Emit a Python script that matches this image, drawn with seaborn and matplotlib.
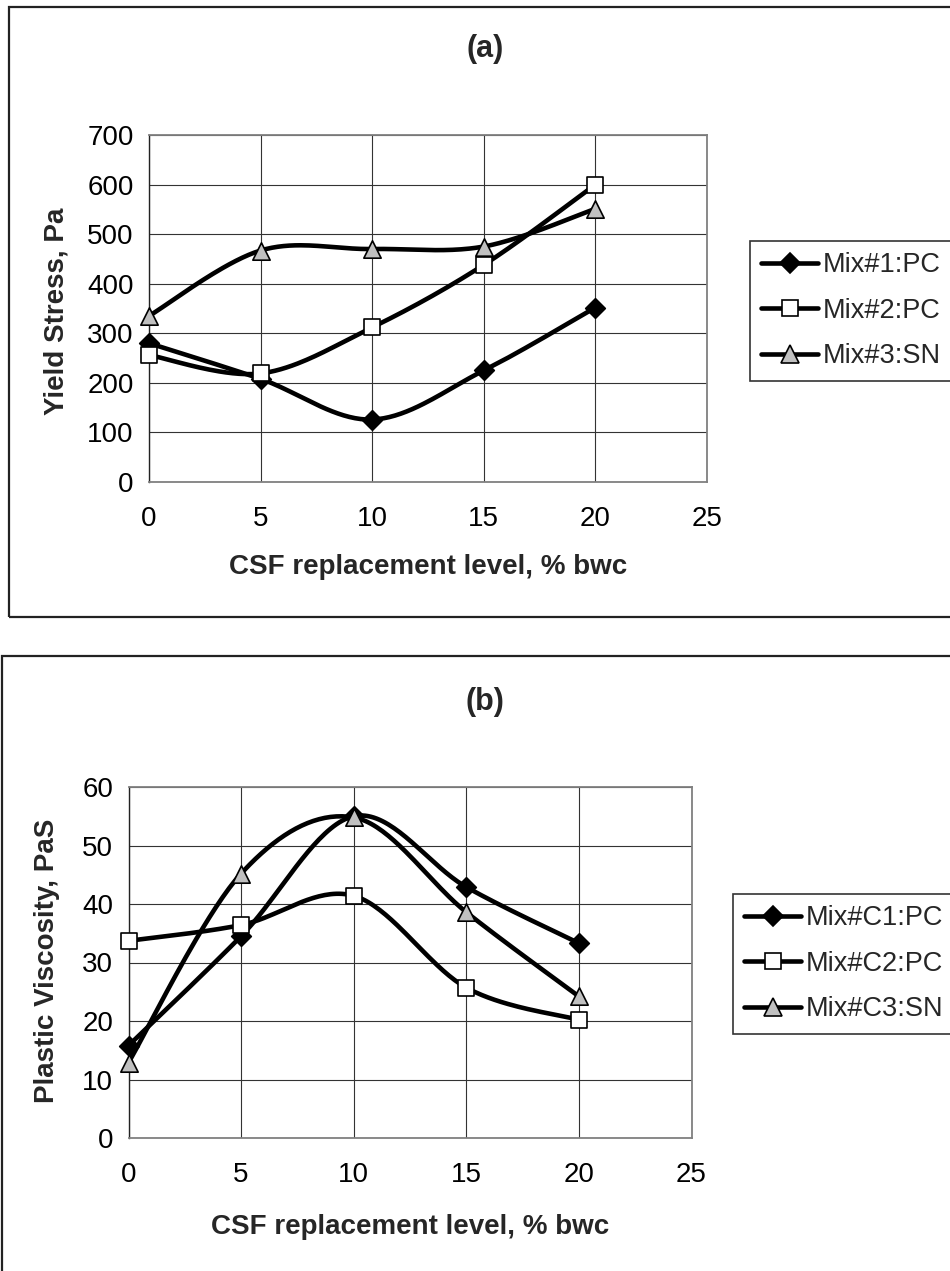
import numpy as np
import pandas as pd
import matplotlib
matplotlib.use("Agg")
import matplotlib.pyplot as plt
from matplotlib.lines import Line2D
from matplotlib.patches import Rectangle
import seaborn as sns

# ---- data -------------------------------------------------------------
csf_levels = [0, 5, 10, 15, 20]

yield_labels = ["Mix#1:PC", "Mix#2:PC", "Mix#3:SN"]
yield_mix1 = [280, 208, 126, 225, 352]
yield_mix2 = [256, 219, 312, 438, 600]
yield_mix3 = [335, 467, 470, 475, 551]

visc_labels = ["Mix#C1:PC", "Mix#C2:PC", "Mix#C3:SN"]
visc_c1 = [15.8, 34.5, 55.0, 42.9, 33.3]
visc_c2 = [33.7, 36.4, 41.4, 25.7, 20.2]
visc_c3 = [12.9, 45.2, 54.8, 38.6, 24.2]

x_ticks = [0, 5, 10, 15, 20, 25]
yield_ticks = [0, 100, 200, 300, 400, 500, 600, 700]
visc_ticks = [0, 10, 20, 30, 40, 50, 60]

# ---- style ------------------------------------------------------------
sns.set_style("white")
plt.rcParams["font.family"] = ["Liberation Sans", "DejaVu Sans"]

W, H = 950, 1271
fig = plt.figure(figsize=(W / 100, H / 100), dpi=100)

MARKERS = [
    dict(marker="D", s=10.0 ** 2, color="black"),
    dict(marker="s", s=11.5 ** 2, color="white"),
    dict(marker="^", s=12.5 ** 2, color="#c0c0c0"),
]
GRID = "#333333"


def smooth(xs, ys, n=40):
    """Bezier smoothing through every point (control points from neighbours)."""
    p = np.column_stack([xs, ys]).astype(float)
    ext = np.vstack([p[0], p, p[-1]])
    out = []
    t = np.linspace(0, 1, n)[:, None]
    for i in range(len(p) - 1):
        p0, p1 = p[i], p[i + 1]
        c1 = p0 + (ext[i + 2] - ext[i]) / 6.0
        c2 = p1 - (ext[i + 3] - ext[i + 1]) / 6.0
        seg = ((1 - t) ** 3) * p0 + 3 * ((1 - t) ** 2) * t * c1 \
            + 3 * (1 - t) * t ** 2 * c2 + t ** 3 * p1
        out.append(seg if i == 0 else seg[1:])
    seg = np.vstack(out)
    return seg[:, 0], seg[:, 1]


def px_rect(l, r, t, b):
    return [l / W, 1 - b / H, (r - l) / W, (b - t) / H]


def panel(rect, series, labels, yticks, ylabel, label_pos, legend_xy, title, title_y):
    ax = fig.add_axes(rect)
    # smoothed lines
    for ys in series:
        sx, sy = smooth(csf_levels, ys)
        sns.lineplot(x=sx, y=sy, ax=ax, color="black", lw=3.3, sort=False,
                     estimator=None, legend=False, clip_on=False, zorder=3)
    # markers
    for ys, mk in zip(series, MARKERS):
        df = pd.DataFrame({"x": csf_levels, "y": ys})
        sns.scatterplot(data=df, x="x", y="y", ax=ax, marker=mk["marker"], s=mk["s"],
                        color=mk["color"], edgecolor="black", linewidth=1.2,
                        legend=False, clip_on=False, zorder=4)

    ax.set_xlim(0, 25)
    ax.set_ylim(yticks[0], yticks[-1])
    ax.set_xticks(x_ticks)
    ax.set_yticks(yticks)
    ax.grid(True, color=GRID, lw=0.8)
    ax.set_axisbelow(True)
    for side in ["top", "right", "bottom"]:
        ax.spines[side].set_color("#808080")
        ax.spines[side].set_linewidth(1.3)
    ax.spines["left"].set_color("#222222")
    ax.spines["left"].set_linewidth(1.0)
    ax.tick_params(axis="both", which="major", direction="out", length=6,
                   width=1.0, color="#666666", labelsize=20, labelcolor="black")
    ax.tick_params(axis="x", pad=11)
    ax.tick_params(axis="y", pad=5)

    ax.set_xlabel("CSF replacement level, % bwc", fontsize=20, fontweight="bold")
    ax.xaxis.set_label_coords(0.5, label_pos[2])
    ax.set_ylabel(ylabel, fontsize=20, fontweight="bold")
    ax.yaxis.set_label_coords(label_pos[0], label_pos[1])

    handles = [Line2D([0], [0], color="black", lw=3.3, marker=mk["marker"],
                      markersize=np.sqrt(mk["s"]), markerfacecolor=mk["color"],
                      markeredgecolor="black", markeredgewidth=1.2)
               for mk in MARKERS]
    leg = fig.legend(handles, labels, loc="upper left",
                     bbox_to_anchor=(legend_xy[0] / W, 1 - legend_xy[1] / H),
                     fontsize=19.5, frameon=True, fancybox=False, framealpha=1,
                     edgecolor="#333333", borderpad=0.42, labelspacing=0.72,
                     handlelength=2.1, handletextpad=0.15, borderaxespad=0)
    leg.get_frame().set_linewidth(1.2)

    fig.text(485 / W, 1 - title_y / H, title, ha="center", va="center",
             fontsize=22, fontweight="bold")
    return ax


# (a) yield stress
panel(px_rect(149, 707, 135, 482), [yield_mix1, yield_mix2, yield_mix3],
      yield_labels, yield_ticks, "Yield Stress, Pa",
      (-0.142, 0.493, -0.2075), (750, 241), "(a)", 49)

# (b) plastic viscosity
panel(px_rect(128.5, 691.5, 787, 1138), [visc_c1, visc_c2, visc_c3],
      visc_labels, visc_ticks, "Plastic Viscosity, PaS",
      (-0.122, 0.504, -0.2165), (733, 894), "(b)", 702)

# frames around each panel
for l, t, b in [(9, 7, 617), (2, 656, 1300)]:
    fig.patches.append(Rectangle((l / W, 1 - b / H), 1.2, (b - t) / H,
                                 transform=fig.transFigure, fill=False,
                                 edgecolor="#222222", lw=1.6, clip_on=False))

fig.savefig("out.png", dpi=100)
